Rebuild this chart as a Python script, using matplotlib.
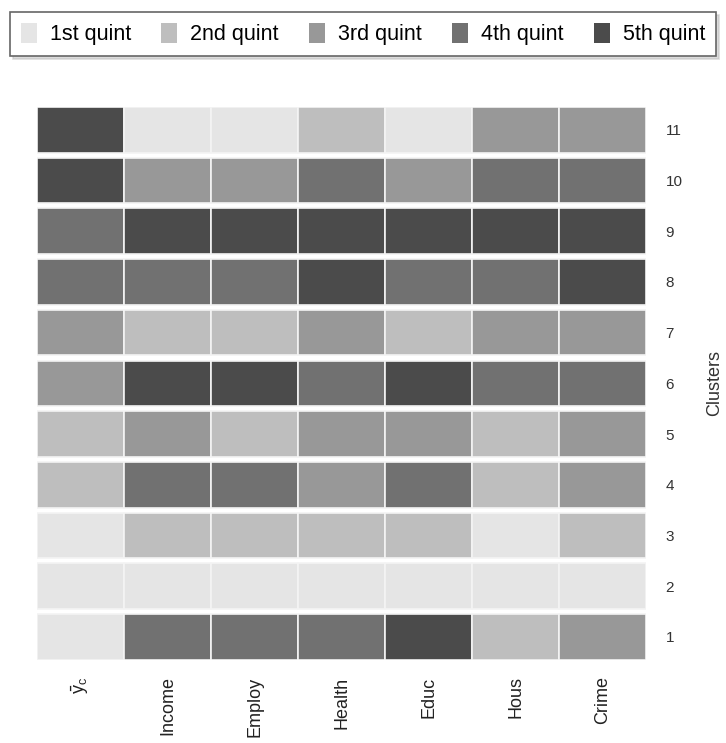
"""Quintile heatmap of cluster profiles across indicators."""

import matplotlib.pyplot as plt
from matplotlib.patches import Patch

plt.rcParams['font.family'] = ['Liberation Sans', 'DejaVu Sans']

indicators = [r'$\bar{\mathregular{y}}_\mathregular{c}$', 'Income', 'Employ', 'Health', 'Educ', 'Hous', 'Crime']
clusters = list(range(1, 12))
quint_labels = ['1st quint', '2nd quint', '3rd quint', '4th quint', '5th quint']
quint_colors = ['#e5e5e5', '#bebebe', '#989898', '#717171', '#4b4b4b']

# quintile (1-5) for each cluster, one list per cluster, columns follow indicators
quintiles = {
    1: [1, 4, 4, 4, 5, 2, 3],
    2: [1, 1, 1, 1, 1, 1, 1],
    3: [1, 2, 2, 2, 2, 1, 2],
    4: [2, 4, 4, 3, 4, 2, 3],
    5: [2, 3, 2, 3, 3, 2, 3],
    6: [3, 5, 5, 4, 5, 4, 4],
    7: [3, 2, 2, 3, 2, 3, 3],
    8: [4, 4, 4, 5, 4, 4, 5],
    9: [4, 5, 5, 5, 5, 5, 5],
    10: [5, 3, 3, 4, 3, 4, 4],
    11: [5, 1, 1, 2, 1, 3, 3],
}


def draw_heatmap(ax):
    for row, cluster in enumerate(clusters):
        values = quintiles[cluster]
        ax.barh([row] * len(values), [1] * len(values), left=range(len(values)),
                height=0.9, color=[quint_colors[v - 1] for v in values],
                edgecolor='#f4f4f4', linewidth=1.2, align='center')

    ax.set_xlim(0, len(indicators))
    ax.set_ylim(-0.45, len(clusters) - 0.55)
    ax.set_xticks([i + 0.5 for i in range(len(indicators))])
    ax.set_xticklabels(indicators, rotation=90, fontsize=13, color='#222222')
    ax.set_yticks(range(len(clusters)))
    ax.set_yticklabels(clusters, fontsize=11, color='#333333')
    ax.yaxis.tick_right()
    ax.yaxis.set_label_position('right')
    ax.set_ylabel('Clusters', fontsize=13, color='#333333', labelpad=17)
    ax.tick_params(length=0, pad=14)
    ax.tick_params(axis='x', pad=12)
    for spine in ax.spines.values():
        spine.set_visible(False)


fig = plt.figure(figsize=(7.26, 7.43), dpi=100)
ax = fig.add_axes([0.051, 0.112, 0.839, 0.744])
draw_heatmap(ax)

handles = [Patch(facecolor=c, edgecolor='none') for c in quint_colors]
leg = fig.legend(handles, quint_labels, loc='upper center', bbox_to_anchor=(0.5, 0.984),
                 ncol=5, fontsize=15.5, frameon=True, fancybox=False,
                 shadow={'color': '#bbbbbb', 'ox': 2, 'oy': -2},
                 handlelength=0.75, handleheight=1.1, handletextpad=0.6, columnspacing=1.4,
                 borderpad=0.5, borderaxespad=0)
leg.get_frame().set_edgecolor('#666666')
leg.get_frame().set_linewidth(1.2)

plt.savefig('out.png', dpi=100)
